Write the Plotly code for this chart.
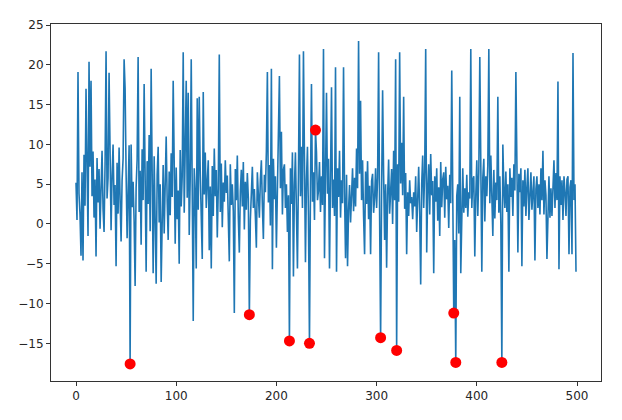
import plotly.graph_objects as go

values = [
    5.2, 0.5, 19.1, 3.8, 1.2, -4.0, 6.5, -4.6, 8.7, 2.3,
    17.0, 4.1, -1.5, 20.4, 7.2, 18.0, 3.5, 9.1, 0.8, 5.6,
    -4.1, 8.3, 2.7, 6.9, -0.6, 4.4, 9.2, 1.9, -1.0, 7.5,
    21.7, 3.2, 5.8, 19.0, 8.8, -0.8, 6.1, 10.0, 2.4, 4.9,
    -5.3, 7.7, 1.3, 9.6, 3.1, -2.2, 5.5, 8.2, 20.7, 17.0,
    6.4, -1.8, 3.9, 9.9, -17.6, 10.0, 2.1, 5.3, 0.4, -7.8,
    4.6, 8.1, 21.0, 1.5, 6.7, -2.6, 9.4, 3.0, 17.6, 5.1,
    -6.0, 7.9, 2.5, 11.2, -0.9, 19.5, 4.3, -6.2, 8.5, 1.7,
    -7.5, 6.2, 9.7, 0.2, 5.0, -7.3, 3.6, 7.4, -1.2, 4.8,
    11.0, 2.9, -2.0, 6.6, 1.1, 8.9, 3.4, 18.0, 5.7, -2.5,
    7.1, 0.6, 4.2, -5.0, 9.3, 2.2, 6.0, 21.6, 1.4, 8.4,
    18.0, 3.3, 16.5, -1.4, 5.9, 20.7, 2.6, -12.2, 7.0, 4.0,
    -5.6, 15.8, 1.8, 16.0, 6.3, 0.1, -4.4, 16.6, 3.7, 9.0,
    2.0, 5.4, 8.0, -3.3, 4.7, -5.6, 7.3, 1.0, 9.5, 3.5,
    6.8, -1.7, 4.5, 21.3, 1.5, 7.6, -0.4, 5.2, 2.8, 8.0,
    3.9, 6.1, 0.3, -4.7, 7.5, 2.4, 5.0, 1.6, -11.2, 6.9,
    3.0, 8.6, 0.9, -3.6, 4.1, 6.8, 2.2, 7.8, -0.7, 5.3,
    1.8, 6.4, 3.2, -11.4, 0.5, 5.8, 7.2, 2.0, 4.4, 1.0,
    -3.0, 6.5, 3.8, 0.8, 5.6, 8.0, 2.3, -1.9, 6.2, 4.0,
    9.1, 19.1, 2.7, 7.4, -0.2, 19.5, -5.7, 8.2, 3.1, 6.0,
    -3.0, 5.2, 9.8, 18.6, 4.5, 11.6, 1.2, 6.8, 7.5, 2.0,
    5.0, -1.0, 3.6, -14.7, 7.0, 2.5, 9.0, -6.6, 4.8, 9.0,
    1.5, -5.6, 6.0, 21.3, 3.5, 9.7, 2.0, 21.7, 8.4, -4.8,
    5.5, 9.7, 1.0, -15.0, 4.6, 17.6, 2.8, 6.5, 0.5, 11.8,
    9.0, 3.0, 4.2, 7.8, 1.5, 6.0, 2.4, 22.0, -4.3, 5.0,
    16.5, 3.8, 8.2, -5.6, 6.4, 17.2, 2.0, 5.6, 1.0, 19.7,
    -6.0, 7.0, 3.4, 9.2, 0.8, 5.5, 2.6, 19.7, 4.0, -4.3,
    6.2, -5.3, 1.8, 4.9, 0.2, 3.4, 7.0, 1.6, 5.8, 2.2,
    9.5, 4.5, 23.0, 6.3, 15.5, 3.0, 8.0, 1.0, -3.8, 6.6,
    2.5, 7.9, 0.6, 4.8, -3.8, 5.4, 6.3, 1.4, 3.2, 7.0,
    2.0, 5.8, 21.6, 1.1, -14.3, 4.0, 16.8, 6.2, -2.0, 5.0,
    -5.5, 3.6, 8.1, 1.3, 4.8, 6.9, 0.0, 9.2, 3.0, 20.7,
    -15.9, 7.5, 2.8, 21.6, 5.1, 10.2, 3.6, 16.0, 1.9, 6.4,
    -3.8, 4.0, 1.0, 5.5, 2.6, 3.4, 0.6, 4.0, 2.2, 6.0,
    -1.0, 3.8, 7.2, 1.5, -7.6, 5.0, 8.6, 2.0, 6.5, 22.0,
    -3.6, 4.2, 7.5, 1.2, 8.8, 3.6, 5.4, -6.2, 6.0, 2.8,
    7.0, 0.4, 4.6, -1.5, 7.8, 2.1, 5.6, 6.5, 0.8, 7.2,
    3.1, 4.8, -0.5, 6.2, 2.6, 19.3, -3.0, -11.2, -2.0, -17.4,
    3.5, 5.0, -1.2, 16.0, -6.2, 3.8, 7.0, 1.4, 4.5, 2.0,
    6.2, 0.9, 4.0, 3.2, 22.0, 2.0, 5.5, 6.0, -4.1, 3.6,
    8.0, 1.0, 6.5, 21.0, 2.4, -6.0, 5.8, 8.2, 0.3, 6.0,
    3.5, 7.4, 22.0, 2.6, 8.6, 4.0, -1.5, 6.8, 0.7, 5.2,
    3.0, 16.0, 1.4, 6.0, 0.0, -17.4, 10.0, 4.4, 2.0, 6.6,
    1.5, 5.0, -6.0, 7.0, 3.4, 5.8, 1.0, 7.5, 4.2, 19.1,
    2.5, -3.6, 6.3, 4.0, 7.0, -5.3, 5.5, 2.2, 6.8, 1.0,
    4.6, 7.0, 0.5, 5.2, 6.5, 1.8, 3.8, 6.0, -4.6, 4.4,
    6.0, 2.0, 5.0, 1.2, 7.0, 3.0, 9.2, 1.2, 5.5, 3.6,
    -4.4, 2.6, 6.0, 0.8, 4.5, 1.0, 5.0, 8.0, 2.0, 6.4,
    3.0, 17.9, -5.7, 6.0, 2.4, 5.5, 0.5, 6.0, 4.0, 1.0,
    5.6, 6.0, -3.8, 4.6, 5.5, -3.8, 21.5, 3.0, 5.0, -6.0,
]
x_index = list(range(len(values)))

anomaly_index = [54, 173, 213, 233, 239, 304, 320, 377, 379, 425]
anomaly_values = [values[i] for i in anomaly_index]

x_ticks = [0, 100, 200, 300, 400, 500]
y_ticks = [-15, -10, -5, 0, 5, 10, 15, 20, 25]

fig = go.Figure()
fig.add_trace(go.Scatter(
    x=x_index, y=values, mode="lines",
    line=dict(color="#1f77b4", width=1.6),
    hoverinfo="skip", showlegend=False,
))
fig.add_trace(go.Scatter(
    x=anomaly_index, y=anomaly_values, mode="markers",
    marker=dict(color="red", size=11, line=dict(width=0)),
    showlegend=False,
))

axis_common = dict(
    showgrid=False, zeroline=False, showline=True, mirror=True,
    linecolor="#333333", linewidth=1, ticks="outside", ticklen=4,
    tickcolor="#333333", tickwidth=1,
    tickfont=dict(family="DejaVu Sans", size=12, color="#262626"),
)
fig.update_xaxes(range=[-24.95, 523.95], tickvals=x_ticks, **axis_common)
fig.update_yaxes(range=[-19.74, 25.14], tickvals=y_ticks, **axis_common)

fig.update_layout(
    width=622, height=420,
    margin=dict(l=42, r=29, t=10, b=47),
    paper_bgcolor="white", plot_bgcolor="white",
    showlegend=False,
)

fig.write_html("out.html")
